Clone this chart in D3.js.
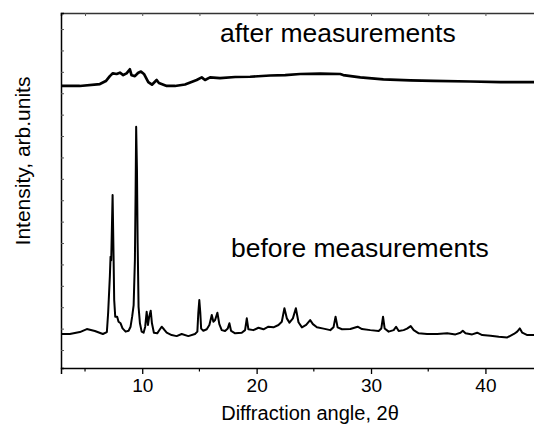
<!DOCTYPE html>
<html>
<head>
<meta charset="utf-8">
<script src="https://cdn.jsdelivr.net/npm/d3@7"></script>
<style>
	body { margin: 0; background: #fff; }
	svg { display: block; font-family: "Liberation Sans", Arial, sans-serif; }
</style>
</head>
<body>
<div id="chart"></div>
<script>
// diffraction angle (2 theta) and intensity readings, arbitrary units
var beforeAngle = [
	2.9, 3.67, 4.55, 5.16, 5.86, 6.56, 6.91, 7.02, 7.17, 7.23, 7.29, 7.41, 7.5, 7.55, 7.64,
	7.81, 7.93, 8.11, 8.28, 8.55, 8.81, 8.98, 9.12, 9.25, 9.36, 9.42, 9.47, 9.54, 9.6, 9.68,
	9.8, 9.95, 10.12, 10.26, 10.39, 10.5, 10.61, 10.74, 10.85, 11.02, 11.31, 11.55, 11.7, 11.9,
	12.14, 12.57, 13.01, 13.45, 14.03, 14.61, 14.82, 14.9, 14.99, 15.08, 15.15, 15.34, 15.64,
	15.87, 16.08, 16.22, 16.37, 16.57, 16.74, 16.95, 17.24, 17.48, 17.62, 17.77, 18.12, 18.7,
	18.99, 19.14, 19.28, 19.72, 20.16, 20.6, 21.03, 21.47, 21.91, 22.2, 22.43, 22.64, 22.87,
	23.17, 23.43, 23.66, 23.96, 24.33, 24.68, 24.92, 25.27, 25.85, 26.44, 26.72, 26.9, 27.08,
	27.46, 28.19, 28.83, 29.21, 29.94, 30.67, 30.9, 31.05, 31.19, 31.54, 31.98, 32.19, 32.42,
	32.85, 33.15, 33.47, 33.73, 34.17, 34.9, 35.78, 36.66, 37.38, 37.82, 38.02, 38.26, 38.84,
	39.28, 39.72, 40.45, 41.17, 41.91, 42.49, 42.78, 43.01, 43.22, 43.66, 44.24, 44.8
];
var beforeIntensity = [
	0.75, 0.75, 0.84, 0.98, 0.89, 0.75, 0.84, 1.73, 3.43, 4.36, 4.2, 7.24, 4.2, 2.34, 1.56,
	1.56, 1.32, 1.25, 1.01, 0.86, 0.9, 1.09, 1.56, 2.1, 4.2, 7.3, 10.43, 8.41, 5.0, 2.02,
	1.25, 0.86, 0.81, 1.09, 1.79, 1.17, 1.56, 1.84, 1.25, 0.81, 0.78, 0.97, 1.09, 0.97,
	0.81, 0.7, 0.65, 0.75, 0.65, 0.75, 0.86, 1.71, 2.34, 1.71, 1.0, 0.9, 0.97,
	1.17, 1.64, 1.32, 1.4, 1.74, 1.21, 0.93, 0.89, 1.01, 1.25, 0.89, 0.78, 0.81,
	0.93, 1.48, 0.97, 0.93, 1.04, 0.97, 1.09, 1.06, 1.17, 1.32, 1.95, 1.48, 1.28,
	1.48, 1.95, 1.3, 1.06, 1.17, 1.4, 1.21, 1.06, 1.0, 0.93, 1.06, 1.56, 1.06,
	0.97, 0.98, 1.09, 0.98, 0.93, 0.89, 1.01, 1.56, 1.01, 0.86, 0.93, 1.09, 0.89,
	0.93, 1.0, 1.12, 0.93, 0.78, 0.75, 0.75, 0.78, 0.73, 0.81, 0.9, 0.78, 0.73,
	0.81, 0.7, 0.67, 0.62, 0.59, 0.75, 0.86, 1.01, 0.81, 0.7, 0.7, 0.7
];
var afterAngle = [
	2.9, 4.54, 6.3, 6.82, 7.17, 7.43, 7.76, 8.05, 8.34, 8.63, 8.92, 9.07, 9.36, 9.65, 9.89,
	10.15, 10.53, 10.85, 11.26, 11.46, 12.14, 12.86, 13.74, 14.76, 15.2, 15.49, 15.93, 16.8,
	18.12, 19.43, 21.18, 22.5, 23.81, 25.56, 27.31, 27.57, 29.06, 31.08, 33.44, 35.46, 38.7,
	41.33, 44.8
];
var afterIntensity = [
	12.34, 12.34, 12.43, 12.57, 12.8, 12.93, 12.9, 12.96, 12.85, 12.93, 13.12, 12.84, 12.8, 12.96, 13.01,
	12.9, 12.52, 12.4, 12.62, 12.48, 12.34, 12.34, 12.41, 12.62, 12.74, 12.62, 12.74, 12.71,
	12.76, 12.77, 12.83, 12.85, 12.9, 12.92, 12.9, 12.85, 12.74, 12.65, 12.6, 12.58, 12.55,
	12.52, 12.52
];
var majorTicks = [10, 20, 30, 40];
var minorTicks = [5, 15, 25, 35];
var labels = ["after measurements", "before measurements"];

var width = 534, height = 424;
var plotLeft = 61, plotTop = 13, plotBottom = 368;

var svg = d3.select("#chart").append("svg")
	.attr("width", width)
	.attr("height", height);

var x = d3.scaleLinear().domain([2.9, 45]).range([plotLeft, plotLeft + 42.1 * 11.44]);
var y = d3.scaleLinear().domain([-0.84, 15.75]).range([plotBottom, plotTop]);

var line = d3.line()
	.x(function(d) { return x(d[0]); })
	.y(function(d) { return y(d[1]); });

svg.append("clipPath").attr("id", "plotClip")
	.append("rect")
		.attr("x", plotLeft).attr("y", plotTop)
		.attr("width", width - plotLeft).attr("height", plotBottom - plotTop);

var plot = svg.append("g").attr("clip-path", "url(#plotClip)");

// the two patterns (noisy in the original, so drawn a little heavy)
plot.append("path")
	.datum(d3.zip(afterAngle, afterIntensity))
	.attr("d", line)
	.attr("fill", "none")
	.attr("stroke", "#000")
	.attr("stroke-width", 2.7)
	.attr("stroke-linejoin", "round");
plot.append("path")
	.datum(d3.zip(beforeAngle, beforeIntensity))
	.attr("d", line)
	.attr("fill", "none")
	.attr("stroke", "#000")
	.attr("stroke-width", 2)
	.attr("stroke-linejoin", "round");

// bottom axis, outward ticks
var xAxis = d3.axisBottom(x).tickValues(majorTicks).tickSize(6).tickPadding(5).tickFormat(d3.format("d"));
var gx = svg.append("g").attr("transform", "translate(0," + plotBottom + ")").call(xAxis);
gx.selectAll(".tick line").attr("stroke", "#000").attr("stroke-width", 1.3);
gx.selectAll("text").attr("font-size", "19px").attr("fill", "#000")
	.attr("font-family", "'Liberation Sans', Arial, sans-serif");
gx.select(".domain").attr("stroke", "#000").attr("stroke-width", 1.5);
gx.selectAll(".minor").data(minorTicks).enter()
	.append("line")
		.attr("class", "minor")
		.attr("x1", function(d) { return x(d); })
		.attr("x2", function(d) { return x(d); })
		.attr("y1", 0).attr("y2", 3.5)
		.attr("stroke", "#000").attr("stroke-width", 1.2);

// top frame with inward ticks
var xTop = d3.axisTop(x).tickValues(d3.range(5, 45, 5)).tickSize(-3).tickFormat("");
var gt = svg.append("g").attr("transform", "translate(0," + plotTop + ")").call(xTop);
gt.select(".domain").attr("stroke", "#333").attr("stroke-width", 1.5);
gt.selectAll(".tick line").attr("stroke", "#555");

// left axis, inward ticks without labels
var yAxis = d3.axisLeft(y).tickValues(d3.range(0, 16)).tickSize(-3).tickFormat("");
var gy = svg.append("g").attr("transform", "translate(" + plotLeft + ",0)").call(yAxis);
gy.select(".domain").attr("stroke", "#000").attr("stroke-width", 1.5);
gy.selectAll(".tick line").attr("stroke", "#555");

svg.append("text")
	.attr("x", 220).attr("y", 42)
	.attr("font-size", "26.5px")
	.attr("fill", "#000")
	.text(labels[0]);
svg.append("text")
	.attr("x", 231).attr("y", 257)
	.attr("font-size", "26.5px")
	.attr("fill", "#000")
	.text(labels[1]);

svg.append("text")
	.attr("x", 310).attr("y", 420)
	.attr("text-anchor", "middle")
	.attr("font-size", "20px")
	.attr("fill", "#000")
	.text("Diffraction angle, 2\u03b8");

svg.append("text")
	.attr("transform", "translate(30,161) rotate(-90)")
	.attr("text-anchor", "middle")
	.attr("font-size", "21px")
	.attr("fill", "#000")
	.text("Intensity, arb.units");
</script>
</body>
</html>
